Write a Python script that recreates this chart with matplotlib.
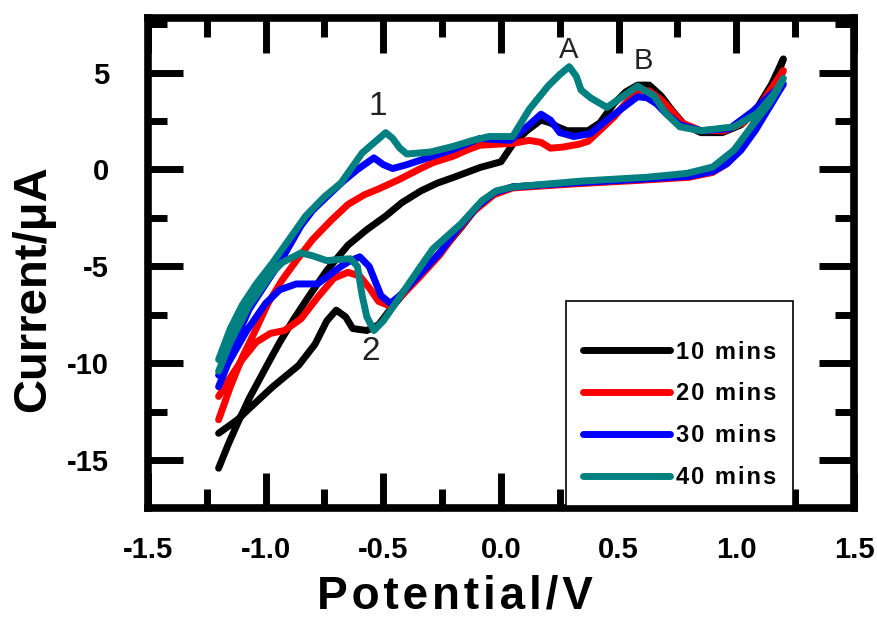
import matplotlib
matplotlib.use('Agg')
import matplotlib.pyplot as plt
from matplotlib.ticker import MultipleLocator

plt.rcParams['font.family'] = ['Liberation Sans', 'DejaVu Sans']
plt.rcParams['axes.unicode_minus'] = False

# cyclic voltammograms, forward scan then reverse scan (potential in V, current in uA)
labels = ['10 mins', '20 mins', '30 mins', '40 mins']
colors = ['#000000', '#ff0000', '#0000ff', '#008080']

pot_10 = [-1.20, -1.16, -1.12, -1.07, -0.99, -0.94, -0.88, -0.82, -0.74, -0.65, -0.57, -0.49, -0.42, -0.34,
          -0.27, -0.20, -0.09, 0.00, 0.05, 0.11, 0.17, 0.21, 0.24, 0.28, 0.37, 0.42, 0.48, 0.53, 0.58, 0.63,
          0.68, 0.73, 0.78, 0.85, 0.94, 1.02, 1.09, 1.15, 1.20,
          1.17, 1.13, 1.08, 1.02, 0.96, 0.90, 0.80, 0.60, 0.30, 0.05, -0.03, -0.10, -0.17, -0.26, -0.33,
          -0.40, -0.47, -0.52, -0.57, -0.63, -0.66, -0.70, -0.74, -0.79, -0.86, -0.97, -1.05, -1.12, -1.20]
cur_10 = [-15.4, -14.2, -13.1, -11.8, -10.0, -8.9, -7.7, -6.6, -5.2, -3.9, -3.1, -2.4, -1.7, -1.1,
          -0.7, -0.4, 0.1, 0.4, 1.3, 2.0, 2.55, 2.4, 2.2, 2.0, 2.0, 2.4, 3.4, 4.0, 4.35, 4.35,
          3.8, 3.0, 2.3, 1.9, 1.9, 2.3, 3.2, 4.4, 5.7,
          4.7, 3.7, 2.5, 1.3, 0.5, 0.0, -0.3, -0.5, -0.7, -0.9, -1.2, -1.9, -3.0, -4.3, -5.2,
          -6.2, -7.2, -8.0, -8.3, -8.2, -7.6, -7.25, -7.8, -9.0, -10.1, -11.2, -12.1, -12.9, -13.6]

pot_20 = [-1.20, -1.15, -1.10, -1.04, -0.99, -0.93, -0.87, -0.80, -0.72, -0.65, -0.58, -0.52, -0.43, -0.35,
          -0.29, -0.20, -0.145, -0.09, 0.05, 0.12, 0.17, 0.21, 0.26, 0.33, 0.37, 0.41, 0.48, 0.55, 0.59,
          0.63, 0.68, 0.72, 0.77, 0.85, 0.95, 1.03, 1.10, 1.15, 1.20,
          1.17, 1.13, 1.08, 1.02, 0.96, 0.90, 0.80, 0.60, 0.30, 0.05, -0.03, -0.12, -0.20, -0.26, -0.35,
          -0.43, -0.48, -0.52, -0.56, -0.60, -0.65, -0.71, -0.78, -0.85, -0.92, -0.98, -1.04, -1.10, -1.16, -1.20]
cur_20 = [-12.9, -11.2, -9.7, -8.2, -6.9, -5.7, -4.7, -3.6, -2.6, -1.8, -1.3, -1.0, -0.5, 0.0,
          0.35, 0.7, 1.0, 1.25, 1.35, 1.5, 1.4, 1.1, 1.15, 1.3, 1.45, 1.9, 2.7, 3.7, 4.1,
          4.05, 3.6, 3.1, 2.4, 2.0, 2.0, 2.4, 3.3, 4.2, 5.1,
          4.4, 3.5, 2.3, 1.1, 0.3, -0.15, -0.4, -0.55, -0.75, -0.95, -1.3, -2.2, -3.4, -4.4, -5.6,
          -6.6, -7.0, -6.8, -6.1, -5.5, -5.3, -5.6, -6.6, -7.7, -8.3, -8.45, -8.9, -9.8, -10.9, -11.7]

pot_30 = [-1.20, -1.16, -1.11, -1.07, -1.00, -0.94, -0.85, -0.80, -0.74, -0.67, -0.61, -0.54, -0.50, -0.46,
          -0.40, -0.30, -0.20, -0.09, 0.04, 0.11, 0.17, 0.21, 0.25, 0.31, 0.38, 0.45, 0.52, 0.58, 0.62,
          0.66, 0.70, 0.76, 0.85, 0.97, 1.07, 1.14, 1.20,
          1.17, 1.13, 1.08, 1.02, 0.96, 0.90, 0.80, 0.60, 0.30, 0.05, -0.03, -0.10, -0.18, -0.26, -0.36,
          -0.43, -0.47, -0.51, -0.56, -0.60, -0.64, -0.68, -0.78, -0.87, -0.94, -1.00, -1.08, -1.16, -1.20]
cur_30 = [-10.6, -9.5, -8.3, -7.2, -5.9, -4.8, -2.9, -2.1, -1.4, -0.6, 0.0, 0.6, 0.25, 0.05,
          0.25, 0.65, 1.05, 1.6, 1.5, 2.2, 2.85, 2.55, 1.9, 1.7, 1.85, 2.55, 3.2, 3.75, 3.7,
          3.4, 2.9, 2.3, 2.0, 2.1, 3.0, 3.8, 4.4,
          3.8, 3.0, 2.0, 1.0, 0.3, -0.1, -0.35, -0.5, -0.7, -0.9, -1.2, -1.9, -3.0, -4.3, -5.6,
          -6.5, -6.9, -6.5, -5.0, -4.5, -4.7, -5.0, -5.9, -5.9, -6.2, -6.9, -8.3, -10.0, -11.2]

pot_40 = [-1.20, -1.15, -1.10, -1.04, -0.97, -0.90, -0.83, -0.75, -0.68, -0.59, -0.49, -0.46, -0.43, -0.40,
          -0.30, -0.20, -0.12, -0.05, 0.05, 0.12, 0.20, 0.25, 0.29, 0.32, 0.34, 0.38, 0.45, 0.51, 0.58,
          0.65, 0.70, 0.76, 0.85, 0.99, 1.09, 1.16, 1.20,
          1.17, 1.14, 1.07, 0.99, 0.90, 0.79, 0.62, 0.34, 0.05, -0.02, -0.08, -0.17, -0.29, -0.37,
          -0.46, -0.50, -0.54, -0.57, -0.59, -0.61, -0.64, -0.70, -0.74, -0.80, -0.85, -0.93, -0.97,
          -1.07, -1.15, -1.20]
cur_40 = [-9.8, -8.2, -7.0, -5.9, -4.8, -3.6, -2.4, -1.4, -0.7, 0.85, 1.9, 1.6, 1.1, 0.8,
          0.9, 1.2, 1.5, 1.7, 1.7, 3.1, 4.3, 4.9, 5.3, 4.8, 4.1, 3.7, 3.2, 3.7, 4.3,
          3.8, 2.9, 2.2, 2.0, 2.2, 2.9, 3.9, 4.7,
          4.0, 3.4, 2.3, 1.0, 0.13, -0.2, -0.4, -0.6, -0.9, -1.1, -1.6, -2.8, -4.1, -5.5,
          -7.1, -7.8, -8.3, -7.6, -6.5, -5.0, -4.6, -4.65, -4.7, -4.45, -4.3, -4.8, -5.3,
          -7.0, -8.9, -10.4]

potentials = [pot_10, pot_20, pot_30, pot_40]
currents = [cur_10, cur_20, cur_30, cur_40]

# peak labels
peak_names = ['1', '2', 'A', 'B']
peak_x = [-0.523, -0.556, 0.289, 0.603]
peak_y = [3.23, -9.40, 6.16, 5.60]
peak_size = [24, 24, 21, 21]

# spread out letters a little, the way the original axis titles look
def spaced(s):
    return '\u200a'.join(s)

fig = plt.figure(figsize=(8.78, 6.17), dpi=100)
ax = fig.add_axes([0.16856, 0.17666, 0.80410, 0.79417])

for x, y, c, lab in zip(potentials, currents, colors, labels):
    ax.plot(x, y, color=c, lw=5, label=spaced(lab), solid_joinstyle='round', solid_capstyle='round')

for name, x, y, s in zip(peak_names, peak_x, peak_y, peak_size):
    ax.text(x, y, name, fontsize=s, color='#222222', ha='center', va='center')

ax.set_xlim(-1.5, 1.5)
ax.set_ylim(-17.45, 7.81)
ax.xaxis.set_major_locator(MultipleLocator(0.5))
ax.xaxis.set_minor_locator(MultipleLocator(0.25))
ax.yaxis.set_major_locator(MultipleLocator(5))
ax.yaxis.set_minor_locator(MultipleLocator(2.5))
ax.xaxis.set_major_formatter(plt.FormatStrFormatter('%.1f'))
ax.yaxis.set_major_formatter(plt.FormatStrFormatter('%d'))

for side in ax.spines.values():
    side.set_linewidth(5.5)
ax.tick_params(which='both', direction='in', top=True, right=True, width=5)
ax.tick_params(which='major', length=25)
ax.tick_params(which='minor', length=14)
ax.tick_params(axis='x', which='major', labelsize=21, pad=20)
ax.tick_params(axis='y', which='major', labelsize=21, pad=28)
for t in ax.get_xticklabels() + ax.get_yticklabels():
    t.set_fontweight('bold')

ax.set_xlabel(spaced('Potential/V'), fontsize=33, fontweight='bold', va='center')
ax.xaxis.set_label_coords(0.435, -0.181)
ax.set_ylabel('Current/\u03bcA', fontsize=34, fontweight='bold', va='center')
ax.yaxis.set_label_coords(-0.163, 0.447)

leg = ax.legend(loc='lower right', bbox_to_anchor=(0.9136, 0.0047), borderaxespad=0,
                title=' ', title_fontsize=3, prop={'size': 17, 'weight': 'bold'},
                handlelength=3.7, handletextpad=0.25, labelspacing=0.8, borderpad=0.7,
                fancybox=False, framealpha=1, edgecolor='black')
leg.get_frame().set_linewidth(1.2)
for line in leg.get_lines():
    line.set_linewidth(5)

fig.savefig('out.png', dpi=100)
